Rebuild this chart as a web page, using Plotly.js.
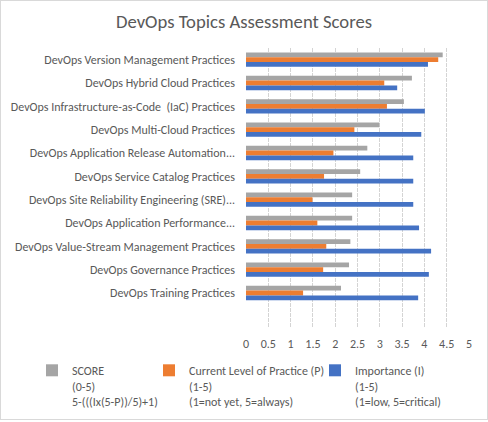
<!DOCTYPE html>
<html>
<head>
<meta charset="utf-8">
<script src="https://cdn.plot.ly/plotly-3.0.1.min.js"></script>
<style>
  html, body { margin: 0; padding: 0; background: #ffffff; }
  #wrap { position: relative; width: 488px; height: 422px; }
  #chart { position: absolute; left: 0; top: 0; width: 488px; height: 422px; }
  #frame { position: absolute; left: 0; top: 0; width: 486px; height: 418px; border: 1px solid #d9d9d9; pointer-events: none; }
</style>
</head>
<body>
<div id="wrap">
  <div id="chart"></div>
  <div id="frame"></div>
</div>
<script>
// Categories, top to bottom as shown in the chart
const categories = [
  "DevOps Version Management Practices",
  "DevOps Hybrid Cloud Practices",
  "DevOps Infrastructure-as-Code\u00a0 (IaC) Practices",
  "DevOps Multi-Cloud Practices",
  "DevOps Application Release Automation...",
  "DevOps Service Catalog Practices",
  "DevOps Site Reliability Engineering (SRE)...",
  "DevOps Application Performance...",
  "DevOps Value-Stream Management Practices",
  "DevOps Governance Practices",
  "DevOps Training Practices"
];

// Series values
const scoreValues      = [4.41, 3.72, 3.54, 2.99, 2.72, 2.56, 2.38, 2.38, 2.34, 2.31, 2.13];
const practiceValues   = [4.31, 3.10, 3.16, 2.43, 1.96, 1.75, 1.49, 1.60, 1.80, 1.73, 1.28];
const importanceValues = [4.08, 3.39, 4.01, 3.93, 3.75, 3.75, 3.75, 3.88, 4.15, 4.10, 3.86];

// Legend names
const seriesNames = [
  "SCORE<br>(0-5)<br>5-(((Ix(5-P))/5)+1)",
  "Current Level of Practice (P)<br>(1-5)<br>(1=not yet, 5=always)",
  "Importance (I)<br>(1-5)<br>(1=low, 5=critical)"
];

// x-axis ticks
const xTickValues = [0, 0.5, 1, 1.5, 2, 2.5, 3, 3.5, 4, 4.5, 5];
const xTickLabels = ["0", "0.5", "1", "1.5", "2", "2.5", "3", "3.5", "4", "4.5", "5"];

const titleText = "DevOps Topics Assessment Scores";

const FONT = "Carlito, 'Liberation Sans', Arial, sans-serif";
const TEXT = "#595959";

const series = [
  { name: seriesNames[0], values: scoreValues, color: "#A5A5A5", legend: "legend" },
  { name: seriesNames[1], values: practiceValues, color: "#ED7D31", legend: "legend2" },
  { name: seriesNames[2], values: importanceValues, color: "#4472C4", legend: "legend3" }
];

const traces = series.map(s => ({
  type: "bar",
  orientation: "h",
  name: s.name,
  legend: s.legend,
  y: categories,
  x: s.values,
  marker: { color: s.color },
  hoverinfo: "x+y"
}));

function legendAt(px) {
  return {
    orientation: "h",
    xref: "container", yref: "container",
    x: px / 488, xanchor: "left",
    y: 1 - 356 / 422, yanchor: "top",
    valign: "top",
    font: { family: FONT, size: 12, color: TEXT },
    bgcolor: "rgba(0,0,0,0)",
    borderwidth: 0,
    itemclick: false, itemdoubleclick: false
  };
}

const layout = {
  width: 488,
  height: 422,
  paper_bgcolor: "#ffffff",
  plot_bgcolor: "#ffffff",
  margin: { l: 246, r: 19, t: 48, b: 94, pad: 0 },
  font: { family: FONT, color: TEXT, size: 12 },
  title: {
    text: titleText,
    font: { family: FONT, size: 18.67, color: TEXT },
    x: 0.5, xref: "container", xanchor: "center",
    y: 1 - 21 / 422, yref: "container", yanchor: "middle"
  },
  barmode: "group",
  bargap: 0.385,
  bargroupgap: 0,
  xaxis: {
    range: [0, 5],
    tickvals: xTickValues,
    ticktext: xTickLabels,
    showgrid: true,
    gridcolor: "#d4d4d4",
    griddash: "4px,1px",
    gridwidth: 1,
    zeroline: false,
    showline: false,
    ticks: "",
    ticklabelstandoff: 7,
    tickfont: { family: FONT, size: 12, color: TEXT },
    fixedrange: true
  },
  yaxis: {
    type: "category",
    categoryorder: "array",
    categoryarray: categories,
    range: [11.5, -0.5],
    showgrid: false,
    zeroline: false,
    showline: false,
    ticks: "",
    ticklabelstandoff: 10,
    tickfont: { family: FONT, size: 12, color: TEXT },
    fixedrange: true
  },
  showlegend: true,
  legend: legendAt(32),
  legend2: legendAt(149),
  legend3: legendAt(315)
};

Plotly.newPlot("chart", traces, layout, { displayModeBar: false });
</script>
</body>
</html>
